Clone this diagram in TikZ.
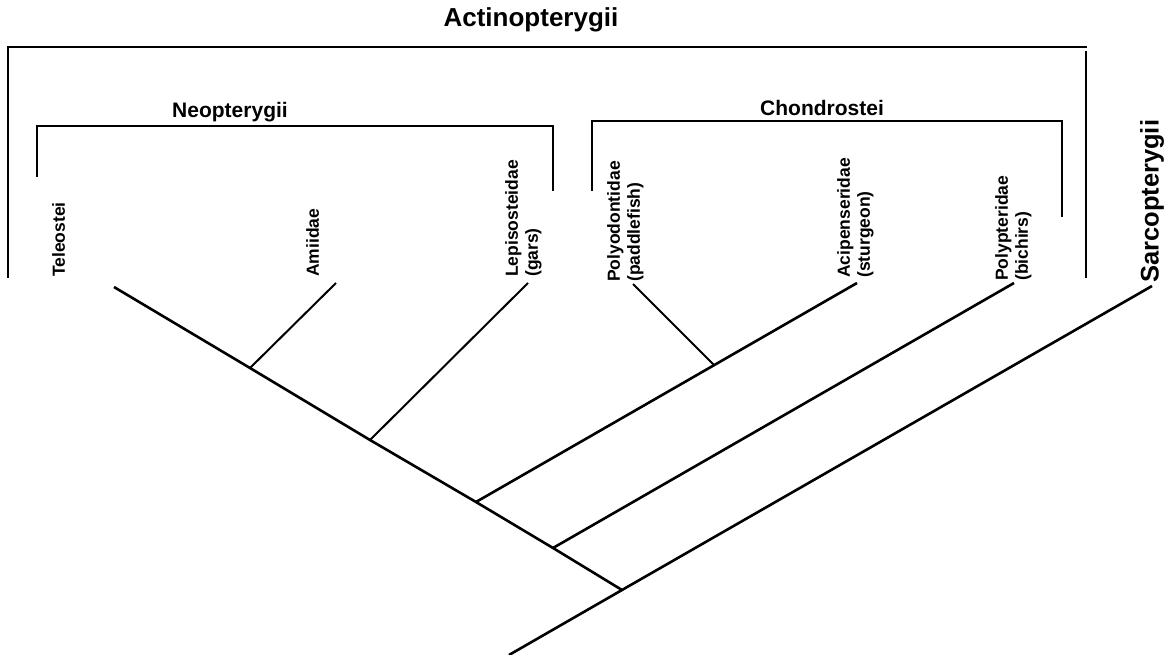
\documentclass[tikz,border=0pt]{standalone}
\usepackage{fontspec}
\setmainfont{Liberation Sans}
\usetikzlibrary{calc}
\begin{document}
\begin{tikzpicture}[x=1pt,y=-1pt,
  branch/.style={line width=2.6pt},
  thinbranch/.style={line width=2pt},
  bracket/.style={line width=2pt},
  leaf/.style={rotate=90, anchor=north west, inner sep=0pt, align=left,
    font=\bfseries\fontsize{17.5}{20}\selectfont},
  group/.style={anchor=base, inner sep=0pt, font=\bfseries\fontsize{21}{24}\selectfont}]
\useasboundingbox (0,0) rectangle (1168,655);

% group labels
\node[group, font=\bfseries\fontsize{26}{30}\selectfont] (actino) at (531,27) {Actinopterygii};
\node[group] (neo) at (230,118) {Neopterygii};
\node[group] (chondro) at (822,116) {Chondrostei};

% brackets
\draw[bracket] (8,278) -- (8,47) -- (1087,47);
\draw[bracket] (1086,51) -- (1086,278);
\draw[bracket] (37,177) -- (37,126) -- (553,126) -- (553,191);
\draw[bracket] (592,191) -- (592,121) -- (1062,121) -- (1062,217);

% leaf labels
\node[leaf] (teleo) at (52,277) {Teleostei};
\node[leaf] (amii) at (306,277) {Amiidae};
\node[leaf] (lepi) at (505,277) {Lepisosteidae\\(gars)};
\node[leaf] (polyo) at (607,282) {Polyodontidae\\(paddlefish)};
\node[leaf] (acip) at (837,278) {Acipenseridae\\(sturgeon)};
\node[leaf] (polyp) at (995,281) {Polypteridae\\(bichirs)};
\node[leaf, font=\bfseries\fontsize{25.5}{28}\selectfont] (sarco) at (1140,283) {Sarcopterygii};

% tree coordinates
\coordinate (tele) at (114,287);
\coordinate (n1) at (250,368);
\coordinate (n2) at (370,440);
\coordinate (n3) at (476,502);
\coordinate (n4) at (553,548);
\coordinate (n5) at (622,590);
\coordinate (root) at (509,655);
\coordinate (amitip) at (336,283);
\coordinate (leptip) at (528,283);
\coordinate (polyotip) at (633,284);
\coordinate (acitip) at (857,283);
\coordinate (polyptip) at (1014,283);
\coordinate (sarctip) at (1152,286);
\coordinate (n6) at ($(n3)!0.625!(acitip)$);

% tree
\draw[branch] (tele) -- (n1) -- (n2) -- (n3) -- (n4) -- (n5);
\draw[branch] (root) -- (n5) -- (sarctip);
\draw[thinbranch] (n1) -- (amitip);
\draw[thinbranch] (n2) -- (leptip);
\draw[branch] (n3) -- (n6) -- (acitip);
\draw[thinbranch] (n6) -- (polyotip);
\draw[branch] (n4) -- (polyptip);
\end{tikzpicture}
\end{document}
